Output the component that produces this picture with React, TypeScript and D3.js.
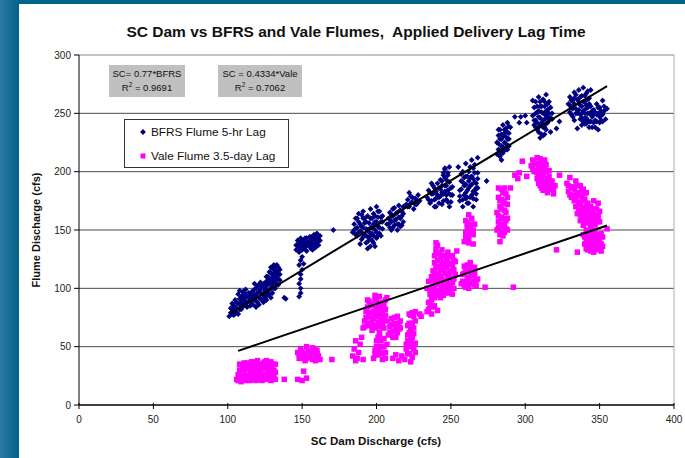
import React from "react";
import * as d3 from "d3";

const TITLE = "SC Dam vs BFRS and Vale Flumes,  Applied Delivery Lag Time";
const X_LABEL = "SC Dam Discharge (cfs)";
const Y_LABEL = "Flume Discharge (cfs)";
const X_TICKS = [0, 50, 100, 150, 200, 250, 300, 350, 400];
const Y_TICKS = [0, 50, 100, 150, 200, 250, 300];
const SERIES_NAMES = ["BFRS Flume 5-hr Lag", "Vale Flume 3.5-day Lag"];
const FIT_SLOPES = [0.77, 0.4334];
const FIT_RANGES: [number, number][] = [[102, 355], [107, 355]];
const FIT_LABELS = [
  ["SC= 0.77*BFRS", "0.9691"],
  ["SC = 0.4334*Vale", "0.7062"],
];

const bfrs: [number, number][] = [
  [101,76],[102,79],[103,82],[104,77],[104,85],[105,80],[106,83],[106,88],[107,78],[108,86],[108,91],[109,82],[110,88],[110,84],[103,87],[105,90],
  [102,83],[103,78],[105,84],[106,79],[107,87],[108,82],[109,88],[110,92],[111,86],[111,95],[112,89],[113,93],[114,96],[115,89],[115,94],[116,86],[116,97],[117,90],[118,95],[119,93],[119,100],[120,88],[121,97],[121,103],[122,91],[123,101],[124,94],[124,104],[125,100],[126,95],[126,110],[127,98],[127,104],[128,108],[129,100],[129,113],[130,106],[130,117],[131,110],[132,104],[132,114],[132,118],[133,108],[133,120],[134,112],[134,103],[135,116],[135,107],[131,100],[128,95],
  [107,95],[108,98],[109,93],[110,97],[111,91],[112,95],[112,99],[113,88],[114,92],[115,85],[116,90],[113,84],
  [117,86],[117,93],[118,99],[118,104],[119,89],[120,96],[120,102],[121,86],[121,92],[122,99],[122,105],[123,90],[123,95],[124,100],[119,84],
  [124,88],[125,92],[125,97],[126,102],[126,106],[127,94],[127,110],[128,99],[128,104],[128,114],[129,108],[129,118],[130,96],[130,102],[130,112],[131,106],[131,116],[131,120],[132,100],[132,110],[133,104],[133,114],[134,108],[134,118],[135,112],[129,92],[126,90],
  [138,92],[139,91],
  [148,93],[149,96],[149,100],[148,104],[149,108],[149,112],[150,116],[148,120],[149,124],[151,121],[150,127],
  [146,133],[147,137],[147,141],[148,131],[148,135],[149,139],[149,143],[150,133],[150,137],[151,141],[152,135],[152,139],[153,132],[153,143],
  [146,137],[147,134],[148,139],[149,135],[150,141],[151,134],[151,138],[152,143],[153,137],[154,140],[156,138],[157,142],[158,136],[159,144],[160,139],[161,145],[162,141],[155,144],
  [155,136],[155,140],[156,144],[157,133],[157,138],[158,142],[158,146],[159,135],[159,139],[160,143],[160,147],[161,137],[161,141],[162,145],[156,134],
  [171,150],
  [184,148],[185,155],[186,151],[186,160],[187,145],[188,157],[188,164],[189,149],[190,142],[190,153],[191,160],[191,166],[192,146],[192,156],[193,139],[193,151],[194,162],[195,143],[195,148],[195,156],[196,168],[197,141],[197,152],[197,160],[198,145],[198,164],[199,136],[199,150],[199,157],[200,143],[200,170],[201,153],[201,161],[202,147],[202,166],[203,157],[204,151],[204,162],[196,136],[194,134],[189,138],
  [185,150],[186,146],[187,152],[187,160],[188,148],[189,155],[190,148],[190,163],[191,144],[191,152],[192,160],[193,145],[193,157],[194,150],[194,140],[196,145],[196,152],[196,160],[197,147],[198,155],[198,139],[199,162],[200,148],[200,157],[201,145],[201,166],[202,152],[203,161],[203,145],[204,157],
  [207,155],[208,160],[209,152],[209,165],[210,157],[211,162],[212,154],[212,169],[213,159],[214,165],[215,155],[215,171],[216,160],[217,166],[218,157],[218,170],[210,150],[214,150],
  [208,155],[209,159],[210,163],[211,152],[211,168],[212,158],[213,164],[214,155],[215,161],[216,167],[217,154],[217,162],[218,164],[216,153],
  [220,172],[221,176],[222,170],[223,179],[224,174],[225,168],[226,177],[227,172],[228,180],[229,175],[222,182],
  [221,170],[223,173],[224,178],[226,172],[227,176],[228,174],
  [234,178],[235,184],[236,173],[237,181],[238,188],[239,176],[240,183],[240,170],[241,190],[242,178],[243,185],[243,193],[244,172],[245,181],[246,188],[246,195],[247,176],[248,184],[249,191],[249,170],[250,180],[251,187],[237,190],[245,199],[246,203],[248,197],
  [235,176],[236,182],[237,175],[238,181],[239,186],[239,170],[240,177],[241,180],[242,186],[242,173],[243,179],[244,188],[244,182],[245,175],[246,183],[247,180],[247,188],[248,174],[249,181],[250,186],[250,174],[251,180],
  [244,192],[245,197],[246,202],[247,193],[248,199],[249,204],
  [255,204],[256,175],[256,184],[257,192],[258,170],[258,200],[259,180],[259,188],[260,196],[260,207],[261,173],[261,184],[262,192],[262,200],[263,178],[263,188],[264,196],[264,210],[265,170],[265,183],[265,203],[266,191],[266,199],[267,176],[267,186],[268,194],[268,212],[260,177],
  [256,179],[257,185],[257,198],[258,176],[258,191],[259,195],[260,182],[260,189],[261,178],[261,196],[262,186],[262,173],[263,195],[263,204],[264,180],[264,189],[265,177],[265,194],[266,184],[266,206],[267,190],[267,181],[268,199],[268,186],
  [274,192],
  [281,215],[281,225],[282,219],[282,231],[283,213],[283,236],[284,222],[284,228],[285,216],[285,240],[286,225],[286,233],[287,219],[287,237],[288,228],[288,242],[289,222],[289,233],[290,238],[284,210],
  [282,224],[283,218],[283,228],[284,232],[284,216],[285,221],[285,230],[286,236],[286,219],[287,224],[287,230],[288,234],[288,219],[289,228],[289,239],[282,236],
  [293,247],[296,242],[297,247],[300,248],[301,242],[305,261],[321,237],[323,243],
  [305,248],[306,240],[306,255],[307,244],[307,260],[308,236],[308,251],[309,247],[309,264],[310,240],[310,256],[311,232],[311,251],[312,244],[312,262],[313,238],[313,256],[314,248],[314,266],[315,242],[315,253],[316,260],[317,246],[317,234],[318,250],[310,229],[312,231],[314,236],
  [306,244],[307,250],[307,238],[308,256],[308,242],[309,238],[309,252],[310,246],[310,260],[311,242],[311,256],[312,238],[312,250],[313,245],[313,260],[314,241],[314,252],[315,247],[315,258],[316,244],[316,250],[317,255],[318,245],[309,234],[313,232],
  [329,258],[330,251],[330,264],[331,255],[332,247],[332,261],[333,268],[334,254],[335,250],[335,262],[336,270],[337,257],[338,265],[338,250],[339,272],[340,260],[341,267],[342,255],[343,263],[344,270],[333,244],[335,237],
  [330,257],[331,261],[331,249],[332,254],[333,258],[333,263],[334,250],[334,266],[336,253],[336,260],[337,264],[337,249],[338,256],[339,260],[340,253],[340,265],[341,257],[342,262],[342,269],[343,258],
  [337,245],[338,240],[339,252],[340,246],[341,241],[342,250],[343,243],[344,256],[345,247],[345,238],[346,253],[347,244],[348,258],[349,250],[350,242],[350,255],[351,248],[352,261],[353,252],[354,245],[355,254],[347,238],[349,236],
  [338,246],[339,243],[340,250],[341,246],[342,244],[343,250],[343,238],[344,243],[345,252],[346,242],[346,249],[347,251],[348,243],[348,249],[349,255],[350,247],[351,252],[351,244],[352,249],[353,256],[352,243],[344,249],[340,241],
];

const vale: [number, number][] = [
  [106,22],[107,26],[108,30],[109,23],[110,34],[111,27],[112,21],[113,31],[113,36],[114,24],[115,29],[116,22],[117,33],[118,26],[118,37],[119,21],[120,30],[121,24],[122,35],[122,28],[123,21],[124,32],[125,26],[125,37],[126,22],[127,29],[128,34],[128,24],[129,21],[130,30],[131,26],[132,35],[132,22],[116,37],[111,36],[109,20],[120,38],[126,38],
  [107,21],[108,35],[110,25],[111,31],[112,35],[113,25],[114,33],[115,21],[116,27],[117,24],[117,29],[119,34],[119,27],[120,22],[121,34],[121,29],[122,23],[123,26],[123,32],[124,22],[124,36],[125,31],[126,26],[126,33],[127,24],[127,36],[128,28],[129,32],[130,25],[130,35],[131,22],[131,30],[132,28],[129,37],
  [138,22],[147,22],[150,21],[153,23],[151,29],
  [147,45],[148,40],[149,48],[151,43],[152,38],[154,46],[155,41],[157,49],[158,44],[159,38],[160,47],[161,42],[162,39],[153,50],
  [148,44],[150,46],[150,40],[152,44],[153,40],[156,44],[157,39],[158,48],[159,42],[160,44],
  [170,39],
  [184,42],[185,48],[186,55],[187,40],[188,45],[189,52],[190,58],[191,39],[186,38],
  [191,66],[192,72],[193,80],[194,68],[195,76],[196,86],[197,64],[197,72],[198,80],[199,90],[200,68],[200,76],[201,84],[202,93],[203,70],[203,78],[204,88],[205,74],[206,82],[207,92],[194,90],[199,94],
  [192,67],[193,75],[194,84],[195,70],[195,89],[196,79],[197,68],[197,85],[198,74],[199,66],[199,78],[200,83],[200,90],[201,71],[201,79],[202,67],[202,87],[203,74],[203,83],[204,70],[204,79],[205,86],[205,66],[206,77],[206,90],[207,72],
  [198,40],[199,47],[200,55],[201,43],[202,60],[203,50],[204,39],[205,57],[206,45],[207,52],[202,62],
  [199,43],[200,50],[201,58],[202,46],[203,55],[204,44],[205,50],[206,40],
  [208,60],[209,67],[210,74],[211,63],[212,70],[213,58],[214,76],[215,65],[216,72],
  [209,62],[210,69],[211,58],[212,75],[213,66],[214,62],[215,70],[216,66],
  [211,40],[213,43],[215,38],[217,42],[219,39],[221,44],[223,37],[224,41],
  [220,48],[221,55],[222,62],[222,70],[223,50],[224,58],[225,66],[225,76],[226,45],[224,79],[226,53],
  [220,52],[221,60],[221,68],[222,44],[223,65],[223,56],[224,52],[224,70],[225,61],[226,72],[225,48],
  [223,77],[226,80],[229,78],[230,76],[222,78],
  [234,80],[235,88],[236,95],[237,78],[238,84],[239,92],[240,98],[241,81],[236,86],
  [234,100],[235,106],[237,94],[238,102],[239,109],[240,96],[242,104],[243,98],[244,108],[245,94],[246,101],[247,106],[248,97],[249,103],[250,109],[251,95],[252,100],[237,110],[243,92],
  [238,115],[239,122],[240,130],[241,112],[241,137],[242,119],[243,126],[244,133],[245,116],[240,139],[243,110],
  [246,118],[247,125],[248,131],[249,113],[250,121],[251,128],[252,116],[253,123],[254,132],[248,110],[252,108],
  [257,104],[258,112],[259,119],[260,101],[261,108],[262,115],[263,122],[264,104],[265,111],[266,118],[267,102],[268,108],[262,100],
  [235,82],[236,99],[237,90],[238,96],[238,107],[239,100],[239,85],[240,104],[241,94],[241,108],[242,98],[243,103],[244,96],[244,102],[245,106],[246,96],[247,100],[248,104],[249,96],[250,101],[251,105],
  [239,114],[239,128],[240,118],[240,134],[241,124],[242,112],[242,130],[243,116],[244,121],[244,128],[245,122],[246,113],[246,128],[247,118],[248,122],[249,127],[250,115],[251,120],[252,124],[253,112],
  [258,106],[259,102],[259,113],[260,116],[261,104],[261,120],[262,109],[263,113],[264,118],[265,106],[266,103],[266,113],[267,107],
  [273,101],[292,101],
  [259,140],[260,148],[261,156],[262,143],[263,151],[264,160],[265,138],[265,146],[266,155],[262,163],
  [260,144],[261,152],[262,139],[263,147],[264,155],[265,150],[260,158],
  [281,150],[281,165],[282,157],[282,178],[283,146],[283,170],[284,161],[284,185],[285,153],[285,175],[286,148],[286,167],[287,181],[287,158],[288,172],[288,150],[282,186],[286,186],[290,186],[283,140],
  [282,152],[282,162],[283,155],[283,175],[284,148],[284,168],[285,160],[285,182],[286,155],[286,173],[287,151],[287,165],[288,178],[288,160],[284,176],[285,145],
  [293,197],[298,209],[301,196],[296,199],[295,194],
  [304,205],[305,210],[306,200],[307,207],[308,194],[309,203],[310,188],[310,211],[311,198],[312,184],[312,206],[313,192],[314,200],[315,182],[315,188],[316,196],[317,185],[318,192],[319,181],[320,188],[308,212],[313,210],
  [305,203],[306,207],[307,201],[308,199],[308,207],[309,196],[309,190],[310,202],[311,186],[311,193],[311,208],[312,190],[312,197],[313,186],[313,203],[314,190],[314,206],[315,194],[316,186],[316,201],[317,190],[318,186],[319,185],[310,194],
  [323,197],
  [328,190],[329,183],[330,195],[331,178],[332,187],[333,175],[334,192],[335,182],[336,174],[337,188],[338,179],[339,185],[340,176],[341,182],[342,173],
  [329,188],[330,180],[331,186],[332,180],[333,185],[334,178],[335,188],[336,180],[337,172],[338,184],[339,175],[340,181],
  [334,170],[335,164],[336,172],[337,158],[338,167],[339,154],[340,162],[341,170],[342,156],[343,165],[344,152],[345,160],[346,168],[347,155],[348,163],[349,158],[350,166],[346,175],[349,173],
  [336,167],[337,163],[338,160],[339,169],[340,157],[341,165],[342,160],[342,168],[343,156],[344,162],[344,170],[345,155],[345,165],[346,158],[347,162],[348,157],[348,168],[349,162],[350,157],
  [339,146],[340,138],[341,150],[342,133],[343,143],[344,137],[345,148],[346,131],[347,141],[348,135],[349,146],[350,139],[351,132],[352,144],[347,150],
  [340,144],[341,140],[341,134],[342,147],[343,138],[344,142],[344,132],[345,135],[345,142],[346,146],[346,137],[347,133],[348,139],[348,145],[349,134],[349,141],[350,144],[350,134],[351,138],[351,147],[352,136],
  [355,151],[321,133],[335,131],
];

const W = 685;
const H = 458;
const M = { left: 79, right: 674, top: 55, bottom: 405 };
const FONT = "Arial, 'Liberation Sans', sans-serif";
const NAVY = "#000080";
const PINK = "#ff00ff";
const SQ = 5.5;

export default function App() {
  const x = d3.scaleLinear().domain([0, 400]).range([M.left, M.right]);
  const y = d3.scaleLinear().domain([0, 300]).range([M.bottom, M.top]);
  const diamond = d3.symbol().type(d3.symbolSquare).size(17)() as string;
  const line = d3.line<[number, number]>().x((d) => x(d[0])).y((d) => y(d[1]));
  const fits = FIT_SLOPES.map((s, i) =>
    line(FIT_RANGES[i].map((v) => [v, s * v] as [number, number]))
  );

  return (
    <svg
      width={W}
      height={H}
      style={{ position: "absolute", left: 0, top: 0, display: "block" }}
      fontFamily={FONT}
    >
      <defs>
        <linearGradient id="bg" x1="0" x2="1" y1="0" y2="0">
          <stop offset="0" stopColor="#2e7aa3" />
          <stop offset="1" stopColor="#00628a" />
        </linearGradient>
      </defs>
      <rect x={0} y={0} width={W} height={H} fill="#ffffff" />
      <rect x={0} y={0} width={W} height={4} fill="#00658c" />
      <rect x={0} y={0} width={19} height={H} fill="url(#bg)" />

      <text
        x={356}
        y={37}
        textAnchor="middle"
        fontSize={15.5}
        fontWeight="bold"
        fill="#111"
        style={{ whiteSpace: "pre" }}
      >
        {TITLE}
      </text>

      {Y_TICKS.filter((t) => t > 0).map((t) => (
        <line
          key={"g" + t}
          x1={M.left}
          x2={M.right}
          y1={y(t)}
          y2={y(t)}
          stroke={t === 300 ? "#8a8a8a" : "#4a4a4a"}
          strokeWidth={1}
        />
      ))}
      <line x1={M.right} x2={M.right} y1={M.top} y2={M.bottom} stroke="#b0b0b0" strokeWidth={1} />

      {bfrs.map((d, i) => (
        <path
          key={"b" + i}
          d={diamond}
          transform={`translate(${x(d[0])},${y(d[1])}) rotate(45)`}
          fill={NAVY}
        />
      ))}
      {vale.map((d, i) => (
        <rect
          key={"v" + i}
          x={x(d[0]) - SQ / 2}
          y={y(d[1]) - SQ / 2}
          width={SQ}
          height={SQ}
          fill={PINK}
        />
      ))}

      {fits.map((p, i) => (
        <path key={"f" + i} d={p || ""} stroke="#000" strokeWidth={2} fill="none" />
      ))}

      <line x1={M.left} x2={M.left} y1={M.top} y2={M.bottom} stroke="#000" strokeWidth={1} />
      <line x1={M.left} x2={M.right} y1={M.bottom} y2={M.bottom} stroke="#000" strokeWidth={1.5} />
      {Y_TICKS.map((t) => (
        <g key={"y" + t}>
          <line x1={M.left - 5} x2={M.left} y1={y(t)} y2={y(t)} stroke="#000" />
          <text x={M.left - 8} y={y(t) + 3.5} textAnchor="end" fontSize={10} fill="#222">
            {t}
          </text>
        </g>
      ))}
      {X_TICKS.map((t) => (
        <g key={"x" + t}>
          <line x1={x(t)} x2={x(t)} y1={M.bottom - 2} y2={M.bottom + 4} stroke="#000" />
          <text x={x(t)} y={M.bottom + 18} textAnchor="middle" fontSize={10} fill="#222">
            {t}
          </text>
        </g>
      ))}
      <text x={376} y={445} textAnchor="middle" fontSize={11.5} fontWeight="bold" fill="#111">
        {X_LABEL}
      </text>
      <text
        transform={`translate(40,230) rotate(-90)`}
        textAnchor="middle"
        fontSize={11}
        fontWeight="bold"
        fill="#111"
      >
        {Y_LABEL}
      </text>

      {FIT_LABELS.map((lab, i) => {
        const bx = i === 0 ? 109 : 218;
        const bw = i === 0 ? 76 : 84;
        const cx = bx + bw / 2;
        return (
          <g key={"a" + i}>
            <rect x={bx} y={65} width={bw} height={32} fill="#c0c0c0" />
            <text x={cx} y={77} textAnchor="middle" fontSize={9.5} fill="#111">
              {lab[0]}
            </text>
            <text x={cx} y={91} textAnchor="middle" fontSize={9.5} fill="#111">
              R<tspan dy={-4} fontSize={6.5}>2</tspan>
              <tspan dy={4}>{" = " + lab[1]}</tspan>
            </text>
          </g>
        );
      })}

      <rect x={124.5} y={119.5} width={164} height={48} fill="#fff" stroke="#333" strokeWidth={1} />
      <path d={diamond} transform="translate(143,132) rotate(45)" fill={NAVY} />
      <text x={151} y={136} fontSize={11.8} fill="#111">
        {SERIES_NAMES[0]}
      </text>
      <rect x={140.5} y={153.5} width={5} height={5} fill={PINK} />
      <text x={151} y={160} fontSize={11.8} fill="#111">
        {SERIES_NAMES[1]}
      </text>
    </svg>
  );
}
